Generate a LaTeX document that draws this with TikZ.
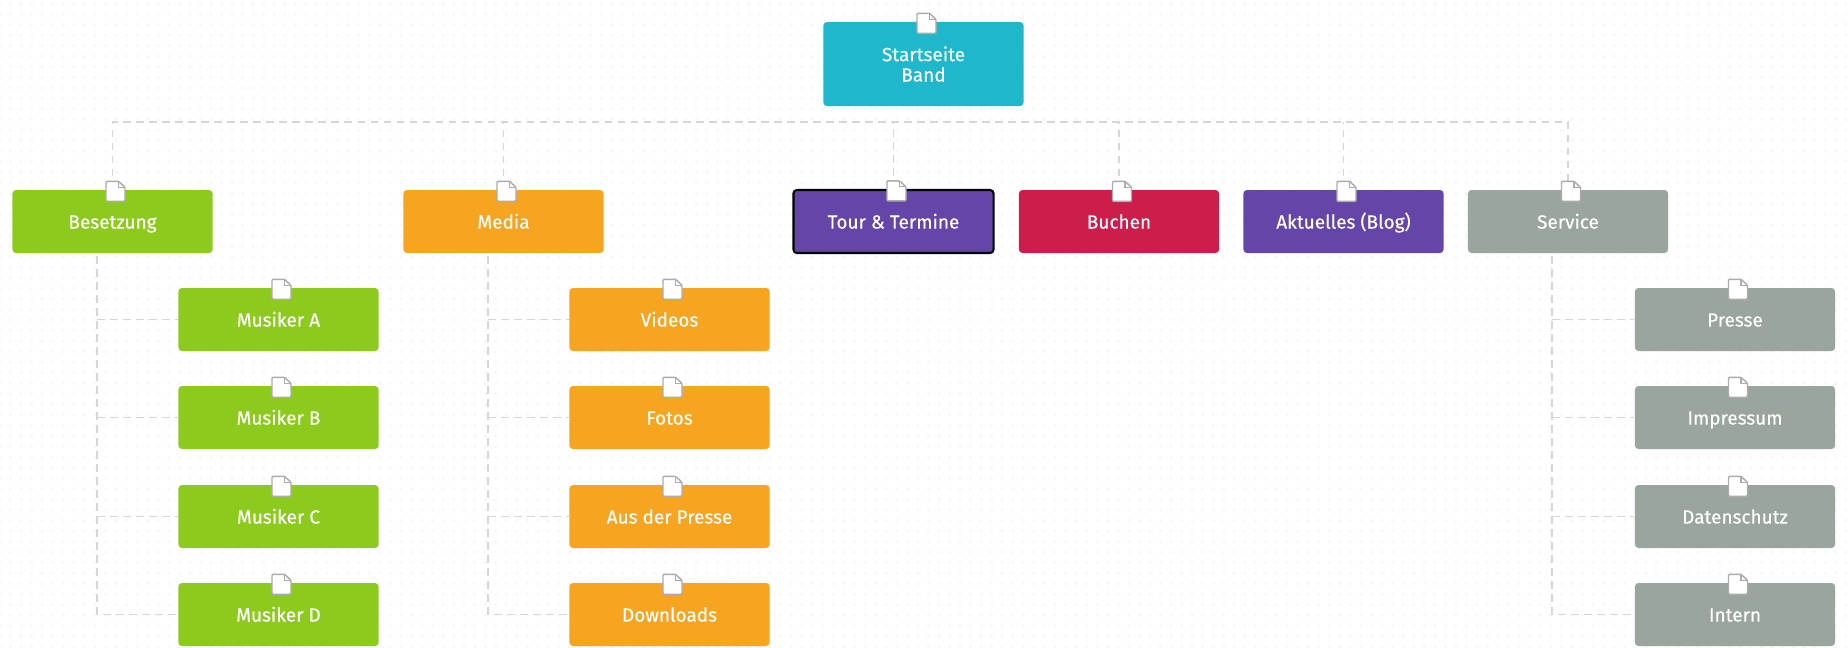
\documentclass[tikz,border=0pt]{standalone}
\usepackage{fontspec}
\setmainfont[FakeBold=0.35]{Fira Sans}
\usepackage{xcolor}
\usepackage{tikz}
\usetikzlibrary{patterns}

\definecolor{startcol}{HTML}{1FB7CC}
\definecolor{greencol}{HTML}{8CCB1E}
\definecolor{orangecol}{HTML}{F7A521}
\definecolor{purplecol}{HTML}{6546A8}
\definecolor{redcol}{HTML}{CC1D4B}
\definecolor{graycol}{HTML}{9AA59E}

\begin{document}
\begin{tikzpicture}[
    x=0.01cm, y=-0.01cm,
    page/.style={rectangle, rounded corners=1pt, inner sep=0pt, text=white,
        minimum width=2cm, minimum height=0.63cm, align=center,
        font=\fontsize{5.4pt}{5.8pt}\selectfont},
    linepage/.style={page, text height=4.8pt, text depth=0.8pt},
    startpage/.style={page, fill=startcol, minimum height=0.84cm},
    besetzungpage/.style={linepage, fill=greencol},
    mediapage/.style={linepage, fill=orangecol},
    tourpage/.style={linepage, fill=purplecol, draw=black, line width=0.6pt},
    buchenpage/.style={linepage, fill=redcol},
    blogpage/.style={linepage, fill=purplecol},
    servicepage/.style={linepage, fill=graycol},
    link/.style={draw=gray!32, line width=0.45pt, dash pattern=on 2.2pt off 1.5pt},
    pics/pageicon/.style={code={
        \draw[draw=gray!65, fill=white, line width=0.42pt, rounded corners=0.3pt]
            (-6.5,-8) -- (6,-8) -- (12.5,-2) -- (12.5,12) -- (-6.5,12) -- cycle;
        \draw[draw=gray!65, line width=0.3pt] (6,-8) -- (6,-2) -- (12.5,-2);
    }}
]
\useasboundingbox (0,0) rectangle (1847,647);

% Background
\fill[white] (0,0) rectangle (1847,647);
\fill[pattern=dots, pattern color=black!3] (0,0) rectangle (1847,647);

% Coordinates for the connectors
\coordinate (bus) at (0,122);
\coordinate (besetzungtrunk) at (97,256);
\coordinate (mediatrunk) at (488,256);
\coordinate (servicetrunk) at (1552,256);

% Top level
\node[startpage] (start) at (923.5,64) {Startseite\\Band};
\node[besetzungpage] (besetzung) at (112.5,221.5) {Besetzung};
\node[mediapage] (media) at (503.5,221.5) {Media};
\node[tourpage] (tour) at (893.5,221.5) {Tour \& Termine};
\node[buchenpage] (buchen) at (1119,221.5) {Buchen};
\node[blogpage] (blog) at (1343.5,221.5) {Aktuelles (Blog)};
\node[servicepage] (service) at (1568,221.5) {Service};

% Besetzung children
\node[besetzungpage] (musikera) at (278.5,319.5) {Musiker A};
\node[besetzungpage] (musikerb) at (278.5,417.5) {Musiker B};
\node[besetzungpage] (musikerc) at (278.5,516.5) {Musiker C};
\node[besetzungpage] (musikerd) at (278.5,614.5) {Musiker D};

% Media children
\node[mediapage] (videos) at (669.5,319.5) {Videos};
\node[mediapage] (fotos) at (669.5,417.5) {Fotos};
\node[mediapage] (presse) at (669.5,516.5) {Aus der Presse};
\node[mediapage] (downloads) at (669.5,614.5) {Downloads};

% Service children
\node[servicepage] (servpresse) at (1735,319.5) {Presse};
\node[servicepage] (impressum) at (1735,417.5) {Impressum};
\node[servicepage] (datenschutz) at (1735,516.5) {Datenschutz};
\node[servicepage] (intern) at (1735,614.5) {Intern};

% Connectors from the bus
\draw[link] (besetzung.north) |- (service.north |- bus) -- (service.north);
\draw[link] (media.north) -- (media.north |- bus);
\draw[link] (tour.north) -- (tour.north |- bus);
\draw[link] (buchen.north) -- (buchen.north |- bus);
\draw[link] (blog.north) -- (blog.north |- bus);

% Connectors to the children
\draw[link] (besetzungtrunk) |- (musikerd.west);
\draw[link] (besetzungtrunk |- musikera.west) -- (musikera.west);
\draw[link] (besetzungtrunk |- musikerb.west) -- (musikerb.west);
\draw[link] (besetzungtrunk |- musikerc.west) -- (musikerc.west);

\draw[link] (mediatrunk) |- (downloads.west);
\draw[link] (mediatrunk |- videos.west) -- (videos.west);
\draw[link] (mediatrunk |- fotos.west) -- (fotos.west);
\draw[link] (mediatrunk |- presse.west) -- (presse.west);

\draw[link] (servicetrunk) |- (intern.west);
\draw[link] (servicetrunk |- servpresse.west) -- (servpresse.west);
\draw[link] (servicetrunk |- impressum.west) -- (impressum.west);
\draw[link] (servicetrunk |- datenschutz.west) -- (datenschutz.west);

% Page icons
\pic at (start.north) {pageicon};
\pic at (besetzung.north) {pageicon};
\pic at (media.north) {pageicon};
\pic at (tour.north) {pageicon};
\pic at (buchen.north) {pageicon};
\pic at (blog.north) {pageicon};
\pic at (service.north) {pageicon};
\pic at (musikera.north) {pageicon};
\pic at (musikerb.north) {pageicon};
\pic at (musikerc.north) {pageicon};
\pic at (musikerd.north) {pageicon};
\pic at (videos.north) {pageicon};
\pic at (fotos.north) {pageicon};
\pic at (presse.north) {pageicon};
\pic at (downloads.north) {pageicon};
\pic at (servpresse.north) {pageicon};
\pic at (impressum.north) {pageicon};
\pic at (datenschutz.north) {pageicon};
\pic at (intern.north) {pageicon};

\end{tikzpicture}
\end{document}
